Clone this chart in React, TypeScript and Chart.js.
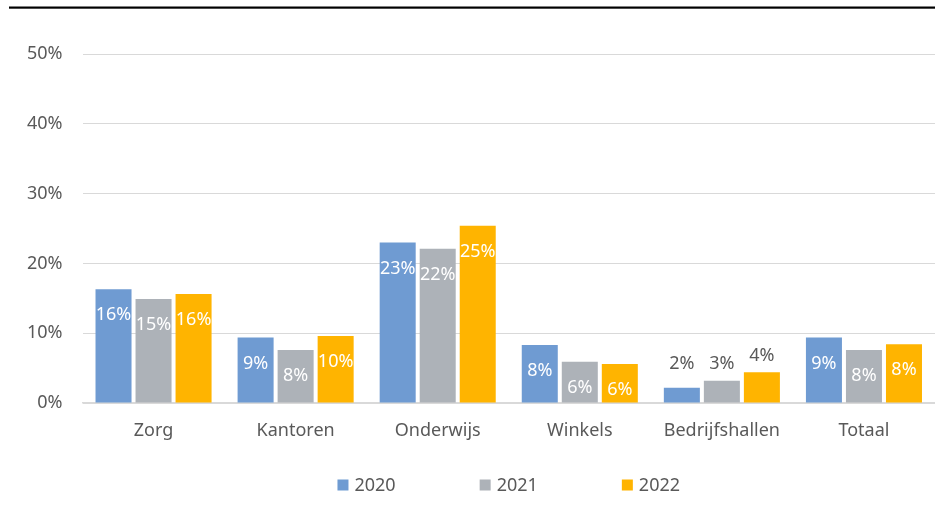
import React, { useEffect, useRef } from 'react';
import { Chart, registerables } from 'chart.js';

Chart.register(...registerables);

const categories = ['Zorg', 'Kantoren', 'Onderwijs', 'Winkels', 'Bedrijfshallen', 'Totaal'];
const seriesLabels = ['2020', '2021', '2022'];
const values2020 = [16.3, 9.4, 23.0, 8.3, 2.2, 9.4];
const values2021 = [14.9, 7.6, 22.1, 5.9, 3.2, 7.6];
const values2022 = [15.6, 9.6, 25.4, 5.6, 4.4, 8.4];
const yMin = 0;
const yMax = 50;
const yStep = 10;
const colors = ['#6f9bd2', '#adb2b8', '#ffb400'];

const FONT = '"Noto Sans", "DejaVu Sans", sans-serif';
const TEXT = '#595959';

export default function App() {
  const ref = useRef<HTMLCanvasElement>(null);

  useEffect(() => {
    const prevMargin = document.body.style.margin;
    document.body.style.margin = '0';
    const canvas = ref.current;
    if (!canvas) return;

    const topLine = {
      id: 'topLine',
      beforeDraw(chart: any) {
        const c = chart.ctx;
        c.save();
        c.fillStyle = '#000';
        c.fillRect(9, 6.5, chart.width - 9, 2.2);
        c.restore();
      },
    };

    const valueLabels = {
      id: 'valueLabels',
      afterDatasetsDraw(chart: any) {
        const c = chart.ctx;
        const zeroY = chart.scales.y.getPixelForValue(0);
        c.save();
        c.font = `18px ${FONT}`;
        c.textAlign = 'center';
        c.textBaseline = 'middle';
        chart.data.datasets.forEach((ds: any, di: number) => {
          const meta = chart.getDatasetMeta(di);
          meta.data.forEach((el: any, i: number) => {
            const v = ds.data[i] as number;
            const text = Math.round(v) + '%';
            const h = zeroY - el.y;
            if (h > 36) {
              c.fillStyle = '#ffffff';
              c.fillText(text, el.x, el.y + 26);
            } else {
              c.fillStyle = TEXT;
              c.fillText(text, el.x, Math.min(el.y - 16, zeroY - 39));
            }
          });
        });
        c.restore();
      },
    };

    const customLegend = {
      id: 'customLegend',
      afterDraw(chart: any) {
        const c = chart.ctx;
        const area = chart.chartArea;
        const cx = (area.left + area.right) / 2;
        const cy = 485;
        const box = 11;
        const gapText = 6;
        const gapItems = 84;
        c.save();
        c.font = `18px ${FONT}`;
        c.textBaseline = 'middle';
        c.textAlign = 'left';
        const items = chart.data.datasets.map((ds: any) => {
          const w = c.measureText(ds.label).width;
          return { label: ds.label, color: ds.backgroundColor, w: box + gapText + w };
        });
        const total = items.reduce((s: number, it: any) => s + it.w, 0) + gapItems * (items.length - 1);
        let x = cx - total / 2;
        items.forEach((it: any) => {
          c.fillStyle = it.color;
          c.fillRect(x, cy - box / 2, box, box);
          c.fillStyle = TEXT;
          c.fillText(it.label, x + box + gapText, cy + 1);
          x += it.w + gapItems;
        });
        c.restore();
      },
    };

    const chart = new Chart(canvas, {
      type: 'bar',
      data: {
        labels: categories,
        datasets: [values2020, values2021, values2022].map((vals, i) => ({
          label: seriesLabels[i],
          data: vals,
          backgroundColor: colors[i],
          borderWidth: 0,
          categoryPercentage: 0.845,
          barPercentage: 0.9,
        })),
      },
      options: {
        responsive: false,
        animation: false,
        layout: { padding: { top: 54, right: 0, bottom: 0, left: 0 } },
        plugins: {
          legend: { display: false },
          tooltip: { enabled: false },
          title: { display: false },
        },
        scales: {
          x: {
            grid: { display: false, drawTicks: false },
            border: { display: true, color: '#d9d9d9', width: 1.5 },
            ticks: {
              color: TEXT,
              font: { family: FONT, size: 18 },
              padding: 17,
              maxRotation: 0,
              autoSkip: false,
            },
            afterFit(scale: any) {
              scale.height = 524 - 403;
            },
          },
          y: {
            min: yMin,
            max: yMax,
            grid: { color: '#d9d9d9', lineWidth: 1, drawTicks: false },
            border: { display: false },
            ticks: {
              stepSize: yStep,
              color: TEXT,
              font: { family: FONT, size: 18 },
              padding: 20,
              callback: (v: any) => v + '%',
            },
            afterFit(scale: any) {
              scale.width = 82.5;
            },
          },
        },
      },
      plugins: [topLine, valueLabels, customLegend],
    });

    return () => {
      chart.destroy();
      document.body.style.margin = prevMargin;
    };
  }, []);

  return (
    <div style={{ width: 935, height: 524, background: '#ffffff' }}>
      <canvas ref={ref} width={935} height={524} style={{ display: 'block' }} />
    </div>
  );
}
